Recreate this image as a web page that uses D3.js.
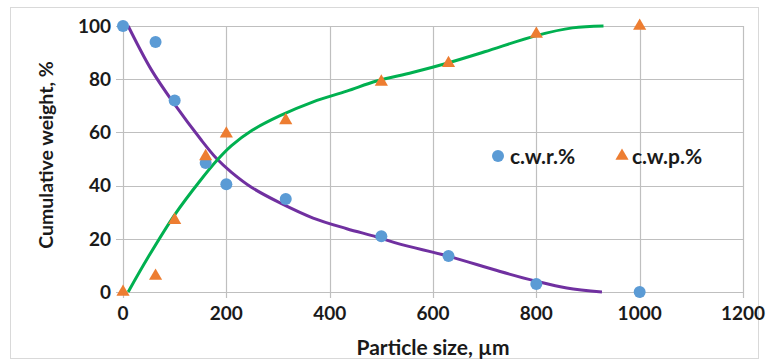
<!DOCTYPE html>
<html>
<head>
<meta charset="utf-8">
<script src="https://cdn.jsdelivr.net/npm/d3@7"></script>
<style>
  html, body { margin: 0; padding: 0; background: #fff; }
  svg { display: block; }
  text { font-family: Lato, "Open Sans", sans-serif; font-weight: 700; fill: #1a1a1a; }
</style>
</head>
<body>
<svg id="chart" width="768" height="362"></svg>
<script>
// Measured sieve sizes (µm)
const sizes = [0, 63, 100, 160, 200, 315, 500, 630, 800, 1000];
// Cumulative weight retained, %
const cwr = [100, 94, 72, 48.5, 40.5, 35, 21, 13.5, 3, 0];
// Cumulative weight passing, %
const cwp = [0, 6, 27, 51, 59.5, 64.5, 79, 86, 97, 100];

// Fitted trend curve, retained
const fitRX = [10, 55, 100, 150, 182, 210, 250, 304, 368, 433, 491, 536, 629, 730, 799, 859, 927];
const fitRY = [100, 83.5, 70.5, 57.5, 50, 45, 39.2, 33.5, 27.8, 23.8, 20.7, 18, 13.5, 7.7, 4.1, 1.5, 0];
// Fitted trend curve, passing
const fitPX = [10, 50, 100, 150, 182, 210, 250, 304, 368, 433, 491, 560, 627, 700, 800, 870, 930];
const fitPY = [0, 13.5, 29, 42, 49.5, 55, 60.8, 66.3, 71.5, 75.5, 79.3, 82.5, 86, 90.3, 96.4, 99.3, 100];

const xTicks = [0, 200, 400, 600, 800, 1000, 1200];
const yTicks = [0, 20, 40, 60, 80, 100];
const legendLabels = ["c.w.r.%", "c.w.p.%"];

const colors = { r: "#5b9bd5", p: "#ed7d31", lineR: "#7030a0", lineP: "#00b050", grid: "#bfbfbf" };

const svg = d3.select("#chart");
const x = d3.scaleLinear().domain([0, 1200]).range([123, 743]);
const y = d3.scaleLinear().domain([0, 100]).range([292, 26]);

// outer frame
svg.append("rect").attr("x", 10.5).attr("y", 7.5).attr("width", 748).attr("height", 351)
  .attr("fill", "#fff").attr("stroke", "#d9d9d9");

// gridlines with tick stubs
const grid = svg.append("g");
grid.selectAll("line.h").data(yTicks).join("line")
  .attr("x1", x(0) - 7).attr("x2", x(1200))
  .attr("y1", d => Math.round(y(d)) + 0.5).attr("y2", d => Math.round(y(d)) + 0.5)
  .attr("stroke", colors.grid).attr("stroke-width", 1.2);
grid.selectAll("line.v").data(xTicks).join("line")
  .attr("x1", d => Math.round(x(d)) + 0.5).attr("x2", d => Math.round(x(d)) + 0.5)
  .attr("y1", y(100)).attr("y2", y(0) + 6)
  .attr("stroke", colors.grid).attr("stroke-width", 1.2);

// tick labels
svg.append("g").selectAll("text").data(yTicks).join("text")
  .attr("x", x(0) - 12).attr("y", d => y(d)).attr("dy", "0.36em")
  .attr("text-anchor", "end").attr("font-size", 19).text(d => d);
svg.append("g").selectAll("text").data(xTicks).join("text")
  .attr("x", d => x(d)).attr("y", y(0) + 28)
  .attr("text-anchor", "middle").attr("font-size", 19).text(d => d);

// axis titles
svg.append("text").attr("x", 433).attr("y", 355).attr("text-anchor", "middle")
  .attr("font-size", 21).text("Particle size, µm");
svg.append("text").attr("transform", "translate(53,155) rotate(-90)").attr("text-anchor", "middle")
  .attr("font-size", 19.5).text("Cumulative weight, %");

// trend curves
const line = d3.line().x(d => x(d[0])).y(d => y(d[1])).curve(d3.curveCatmullRom.alpha(0.5));
svg.append("path").datum(d3.zip(fitRX, fitRY)).attr("d", line)
  .attr("fill", "none").attr("stroke", colors.lineR).attr("stroke-width", 3);
svg.append("path").datum(d3.zip(fitPX, fitPY)).attr("d", line)
  .attr("fill", "none").attr("stroke", colors.lineP).attr("stroke-width", 3);

// markers
const tri = d3.symbol().type(d3.symbolTriangle).size(75);
svg.append("g").selectAll("circle").data(d3.zip(sizes, cwr)).join("circle")
  .attr("cx", d => x(d[0])).attr("cy", d => y(d[1])).attr("r", 6).attr("fill", colors.r);
svg.append("g").selectAll("path").data(d3.zip(sizes, cwp)).join("path")
  .attr("d", tri).attr("transform", d => `translate(${x(d[0])},${y(d[1])})`).attr("fill", colors.p);

// legend
const lg = svg.append("g");
lg.append("circle").attr("cx", 498).attr("cy", 156).attr("r", 6).attr("fill", colors.r);
lg.append("text").attr("x", 510).attr("y", 156).attr("dy", "0.36em").attr("font-size", 21).text(legendLabels[0]);
lg.append("path").attr("d", tri).attr("transform", "translate(622,156)").attr("fill", colors.p);
lg.append("text").attr("x", 632).attr("y", 156).attr("dy", "0.36em").attr("font-size", 21).text(legendLabels[1]);
</script>
</body>
</html>
